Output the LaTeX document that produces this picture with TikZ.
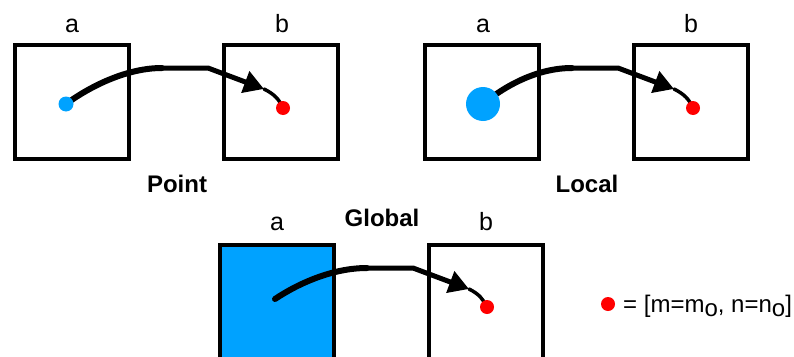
\documentclass[tikz,border=0pt]{standalone}
\usepackage{fontspec}
\setmainfont{Liberation Sans}
\usetikzlibrary{arrows.meta}
\definecolor{ptblue}{RGB}{0,162,255}
\definecolor{ptred}{RGB}{255,0,0}
\tikzset{
  box/.style={draw, line width=4pt, minimum size=114pt, inner sep=0pt},
  reddot/.style={circle, fill=ptred, inner sep=0pt, minimum size=14pt},
  bluedot/.style={circle, fill=ptblue, inner sep=0pt, minimum size=15pt},
  lbl/.style={font=\fontsize{25}{25}\selectfont, anchor=base, inner sep=0pt},
  ttl/.style={font=\bfseries\fontsize{24}{24}\selectfont, anchor=base, inner sep=0pt},
  flow/.style={line cap=round, line join=round},
  head/.style={-{Triangle[length=20pt,width=22pt]}}
}
\begin{document}
\begin{tikzpicture}[x=1pt,y=-1pt]
\useasboundingbox (0,0) rectangle (794,356);
\clip (0,0) rectangle (794,356);
% Point
\begin{scope}
\node[box] (ba1) at (72,102) {};
\node[box] (bb1) at (281,102) {};
\node[lbl] (la1) at (72,32) {a};
\node[lbl] (lb1) at (282,32) {b};
\node[ttl] (t1) at (177,192) {Point};
\coordinate (s1) at (66,104);
\coordinate (k1) at (162,68);
\coordinate (j1) at (208,68);
\coordinate (h1) at (264,89);
\coordinate (e1) at (283,108);
\draw[flow, line width=6pt] (s1) .. controls (92,85) and (128,68) .. (k1);
\draw[flow, head, line width=5pt] (k1) -- (j1) -- (h1);
\draw[flow, line width=3.5pt] (h1) .. controls (274,94) and (279,99) .. (e1);
\node[bluedot] (da1) at (s1) {};
\node[reddot] (db1) at (e1) {};
\end{scope}
% Local
\begin{scope}[shift={(410,0)}]
\node[box] (ba2) at (72,102) {};
\node[box] (bb2) at (281,102) {};
\node[lbl] (la2) at (73,32) {a};
\node[lbl] (lb2) at (281,32) {b};
\node[ttl] (t2) at (177,192) {Local};
\coordinate (s2) at (73,104);
\coordinate (k2) at (162,68);
\coordinate (j2) at (208,68);
\coordinate (h2) at (264,89);
\coordinate (e2) at (283,108);
\draw[flow, line width=6pt] (s2) .. controls (96,85) and (128,68) .. (k2);
\draw[flow, head, line width=5pt] (k2) -- (j2) -- (h2);
\draw[flow, line width=3.5pt] (h2) .. controls (274,94) and (279,99) .. (e2);
\node[bluedot, minimum size=34pt] (da2) at (s2) {};
\node[reddot] (db2) at (e2) {};
\end{scope}
% Global
\begin{scope}[shift={(205,200)}]
\node[box, fill=ptblue] (ba3) at (72,102) {};
\node[box] (bb3) at (281,102) {};
\node[lbl] (la3) at (72,30) {a};
\node[lbl] (lb3) at (281,30) {b};
\node[ttl] (t3) at (177,26) {Global};
\coordinate (s3) at (70,99);
\coordinate (k3) at (162,68);
\coordinate (j3) at (208,68);
\coordinate (h3) at (264,89);
\coordinate (e3) at (282,107);
\draw[flow, line width=6pt] (s3) .. controls (94,83) and (128,68) .. (k3);
\draw[flow, head, line width=5pt] (k3) -- (j3) -- (h3);
\draw[flow, line width=3.5pt] (h3) .. controls (274,94) and (278,99) .. (e3);
\node[reddot] (db3) at (e3) {};
\end{scope}
% legend
\node[reddot] (key) at (608,304) {};
\node[lbl, anchor=base west, font=\fontsize{24}{24}\selectfont] (keytext) at (623,312)
  {= [m=m\raisebox{-4pt}{o}, n=n\raisebox{-4pt}{o}]};
\end{tikzpicture}
\end{document}
